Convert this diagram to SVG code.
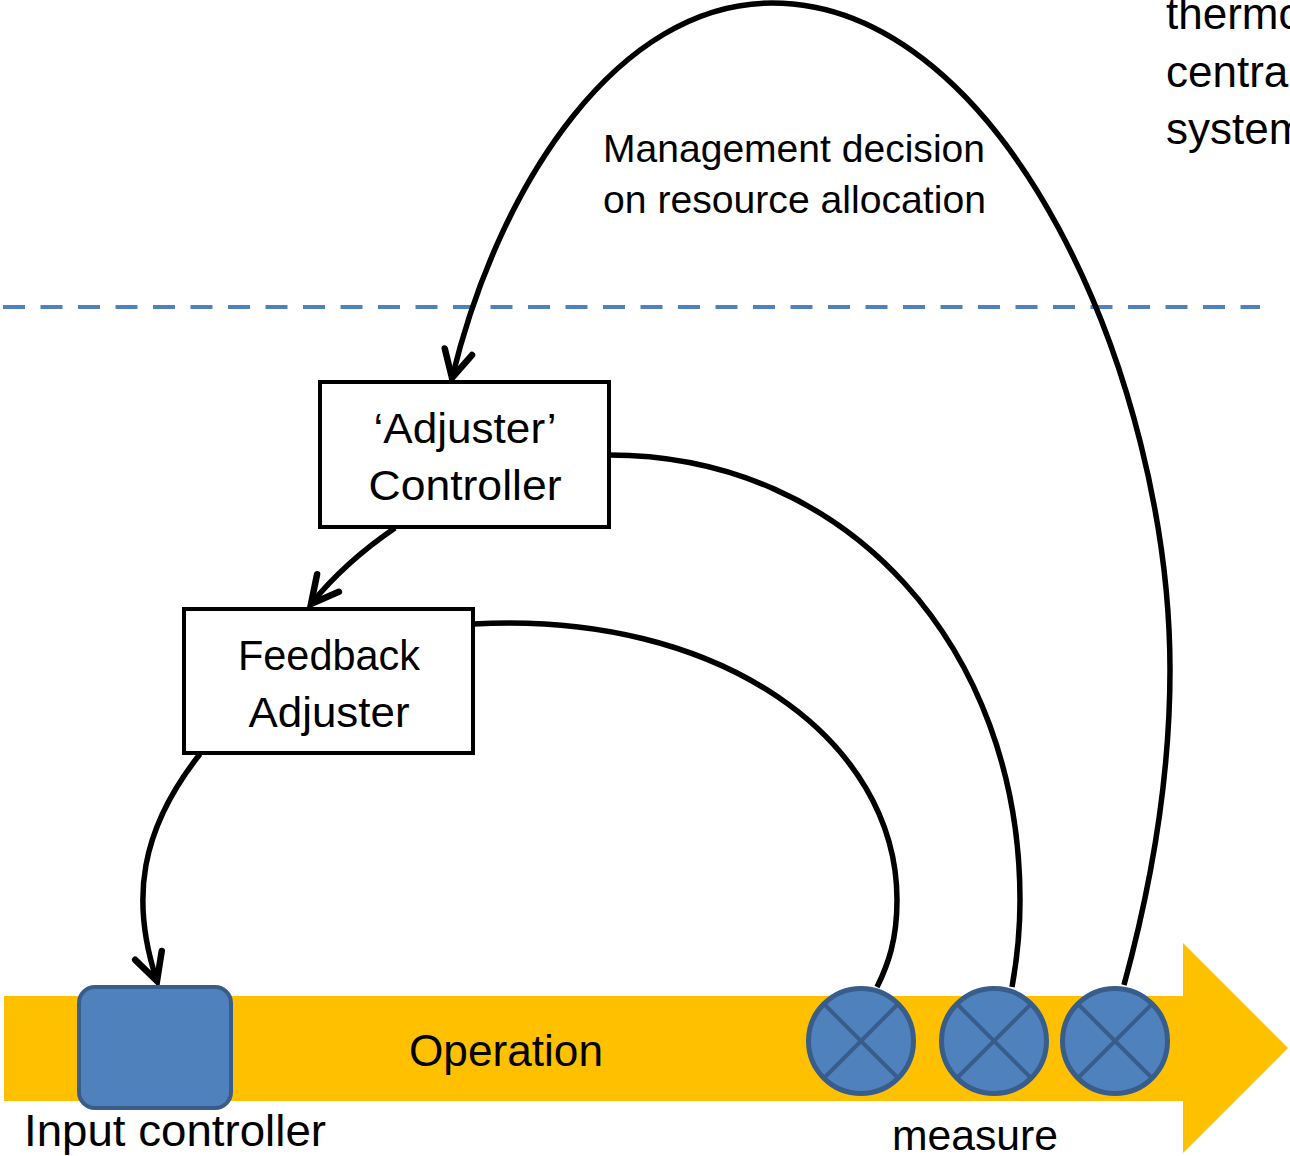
<svg xmlns="http://www.w3.org/2000/svg" width="1290" height="1156" viewBox="0 0 1290 1156">
<style>
text{font-family:"Liberation Sans",Arial,sans-serif;fill:#000}
.box{fill:#fff;stroke:#000;stroke-width:4}
.conn{fill:none;stroke:#000;stroke-width:5.5}
.meas{fill:#4F81BD;stroke:#385D8A;stroke-width:5}
.cross{stroke:#385D8A;stroke-width:4}
</style>
<defs>
<marker id="arr" markerUnits="userSpaceOnUse" markerWidth="60" markerHeight="60" viewBox="-40 -30 60 60" refX="0" refY="0" orient="auto" overflow="visible">
<path d="M-27,-14 L0,0 L-27,14" fill="none" stroke="#000" stroke-width="6.5" stroke-linecap="round" stroke-linejoin="miter"/>
</marker>
</defs>
<rect width="1290" height="1156" fill="#fff"/>
<g id="operation-band">
<polygon points="4,996 1183,996 1183,943 1288,1048 1183,1153 1183,1101 4,1101" fill="#FFC000"/>
<text x="506" y="1066" font-size="44" text-anchor="middle" textLength="194" lengthAdjust="spacingAndGlyphs">Operation</text>
</g>
<line id="boundary" x1="3" y1="307" x2="1260" y2="307" stroke="#4F81BD" stroke-width="4" stroke-dasharray="22 15.5"/>
<g id="connectors">
<path class="conn" d="M1124,985 C1150,890 1170,780 1170,670 C1170,380 1005,3 772,3 C620,3 500,180 452,378" marker-end="url(#arr)"/>
<path class="conn" d="M609,455 C850,455 1020,650 1020,900 C1020,940 1016,965 1012,987"/>
<path class="conn" d="M473,624 C720,610 897,740 897,900 C897,940 888,965 877,987"/>
<path class="conn" d="M395,528 Q345,562 311,604" marker-end="url(#arr)"/>
<path class="conn" d="M200,754 C140,830 130,900 157,981" marker-end="url(#arr)"/>
</g>
<g id="label-management">
<text x="603" y="162" font-size="39" textLength="382" lengthAdjust="spacingAndGlyphs">Management decision</text>
<text x="603" y="213" font-size="39" textLength="383" lengthAdjust="spacingAndGlyphs">on resource allocation</text>
</g>
<g id="label-thermostat">
<text x="1166" y="29" font-size="44">thermo</text>
<text x="1166" y="87" font-size="44">centra</text>
<text x="1166" y="144" font-size="44">system</text>
</g>
<g id="adjuster-controller">
<rect class="box" x="320" y="382" width="289" height="145"/>
<text x="465" y="443" font-size="43" text-anchor="middle" textLength="183" lengthAdjust="spacingAndGlyphs">‘Adjuster’</text>
<text x="465" y="500" font-size="43" text-anchor="middle" textLength="193" lengthAdjust="spacingAndGlyphs">Controller</text>
</g>
<g id="feedback-adjuster">
<rect class="box" x="184" y="609" width="289" height="144"/>
<text x="329" y="670" font-size="43" text-anchor="middle" textLength="182" lengthAdjust="spacingAndGlyphs">Feedback</text>
<text x="329" y="727" font-size="43" text-anchor="middle" textLength="161" lengthAdjust="spacingAndGlyphs">Adjuster</text>
</g>
<g id="input-controller">
<rect x="79" y="987" width="152" height="121" rx="16" fill="#4F81BD" stroke="#385D8A" stroke-width="4"/>
<text x="24" y="1146" font-size="44" textLength="302" lengthAdjust="spacingAndGlyphs">Input controller</text>
</g>
<g id="measure-1">
<circle class="meas" cx="861" cy="1041" r="52.5"/>
<path class="cross" d="M824,1004 L898,1078 M898,1004 L824,1078"/>
</g>
<g id="measure-2">
<circle class="meas" cx="994" cy="1041" r="52.5"/>
<path class="cross" d="M957,1004 L1031,1078 M1031,1004 L957,1078"/>
</g>
<g id="measure-3">
<circle class="meas" cx="1115" cy="1041" r="52.5"/>
<path class="cross" d="M1078,1004 L1152,1078 M1152,1004 L1078,1078"/>
</g>
<text id="label-measure" x="892" y="1150" font-size="43" textLength="166" lengthAdjust="spacingAndGlyphs">measure</text>
</svg>
